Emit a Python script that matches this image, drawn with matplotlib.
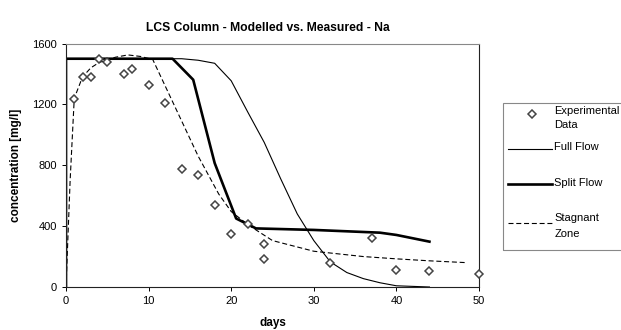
#!/usr/bin/env python
import matplotlib
matplotlib.use("Agg")
import matplotlib.pyplot as plt
from matplotlib.lines import Line2D
from matplotlib.patches import Rectangle

# Experimental data (days, mg/l)
exp_days = [1, 2, 3, 4, 5, 7, 8, 10, 12, 14, 16, 18, 20, 22, 24, 24, 32, 37, 40, 44, 50]
exp_conc = [1235, 1380, 1380, 1500, 1480, 1400, 1432, 1325, 1212, 773, 735, 537,
            348, 416, 283, 184, 156, 322, 112, 103, 86]

# Full flow model
full_days = [0, 0, 14, 16, 18, 20, 22, 24, 26, 28, 30, 32, 34, 36, 38, 40, 44]
full_conc = [0, 1500, 1500, 1490, 1470, 1355, 1150, 950, 710, 480, 305, 165, 95, 55, 28, 8, 0]

# Split flow model
split_days = [0, 0, 12.9, 15.4, 18, 20.6, 23, 30, 38, 40, 44]
split_conc = [0, 1500, 1500, 1362, 814, 450, 385, 375, 357, 342, 298]

# Stagnant zone model
stag_days = [0, 0.5, 1, 2, 3, 4, 6, 7.5, 9, 10.5, 16, 18.5, 20, 22, 25, 30, 36, 40, 44, 48.5]
stag_conc = [0, 700, 1240, 1380, 1440, 1475, 1510, 1525, 1515, 1495, 860, 610, 496, 410, 305,
             235, 200, 185, 172, 160]

legend_labels = [['Experimental', 'Data'], ['Full Flow'], ['Split Flow'], ['Stagnant', 'Zone']]

plt.rcParams['font.family'] = ['Liberation Sans', 'DejaVu Sans']

W, H = 621., 330.


def fx(px):
  return px / W


def fy(py):
  return 1 - py / H


def main():
  fig = plt.figure(figsize=(6.21, 3.30), dpi=100)
  ax = fig.add_axes([fx(66), fy(287), (479-66)/W, (287-43.5)/H])

  marker_style = dict(ls='none', marker='D', ms=3.6, mfc='white', mec='#444444', mew=1.1)
  line_styles = [dict(color='black', lw=0.8),
                 dict(color='black', lw=1.9),
                 dict(color='black', lw=0.8, dashes=(4.5, 2.5))]

  ax.plot(full_days, full_conc, **line_styles[0])
  ax.plot(split_days, split_conc, **line_styles[1])
  ax.plot(stag_days, stag_conc, **line_styles[2])
  ax.plot(exp_days, exp_conc, clip_on=False, zorder=5, **marker_style)

  ax.set_xlim(0, 50)
  ax.set_ylim(0, 1600)
  ax.set_xticks([0, 10, 20, 30, 40, 50])
  ax.set_yticks([0, 400, 800, 1200, 1600])
  ax.tick_params(labelsize=8, length=3, width=0.7, direction='out')
  for s in ax.spines.values():
    s.set_linewidth(0.8)
    s.set_color('#222222')
  ax.spines['top'].set_color('#888888')

  ax.set_xlabel('days', fontsize=8.5, fontweight='bold', labelpad=8)
  ax.set_ylabel('concentration [mg/l]', fontsize=8.5, fontweight='bold', labelpad=7)
  fig.text(fx(268), fy(28), 'LCS Column - Modelled vs. Measured - Na',
           ha='center', va='center', fontsize=8.7, fontweight='bold')

  # legend box, drawn by hand to match the uneven entry spacing
  fig.add_artist(Rectangle((fx(503), fy(250)), (625-503)/W, (250-103)/H, transform=fig.transFigure,
                           fill=False, edgecolor='#888888', lw=0.8))
  handle_y = [114, 149, 184, 223]
  text_y = [[110.7, 125], [147.3], [182.7], [218.3, 234]]
  fig.add_artist(Line2D([fx(531.7)], [fy(handle_y[0])], transform=fig.transFigure, **marker_style))
  for i, st in enumerate(line_styles):
    yy = fy(handle_y[i + 1])
    fig.add_artist(Line2D([fx(508), fx(552)], [yy, yy], transform=fig.transFigure, **st))
  for lines, ys in zip(legend_labels, text_y):
    for txt, y in zip(lines, ys):
      fig.text(fx(554.5), fy(y), txt, ha='left', va='center', fontsize=8)

  fig.savefig('out.png', dpi=100)


if __name__ == "__main__":
  main()
